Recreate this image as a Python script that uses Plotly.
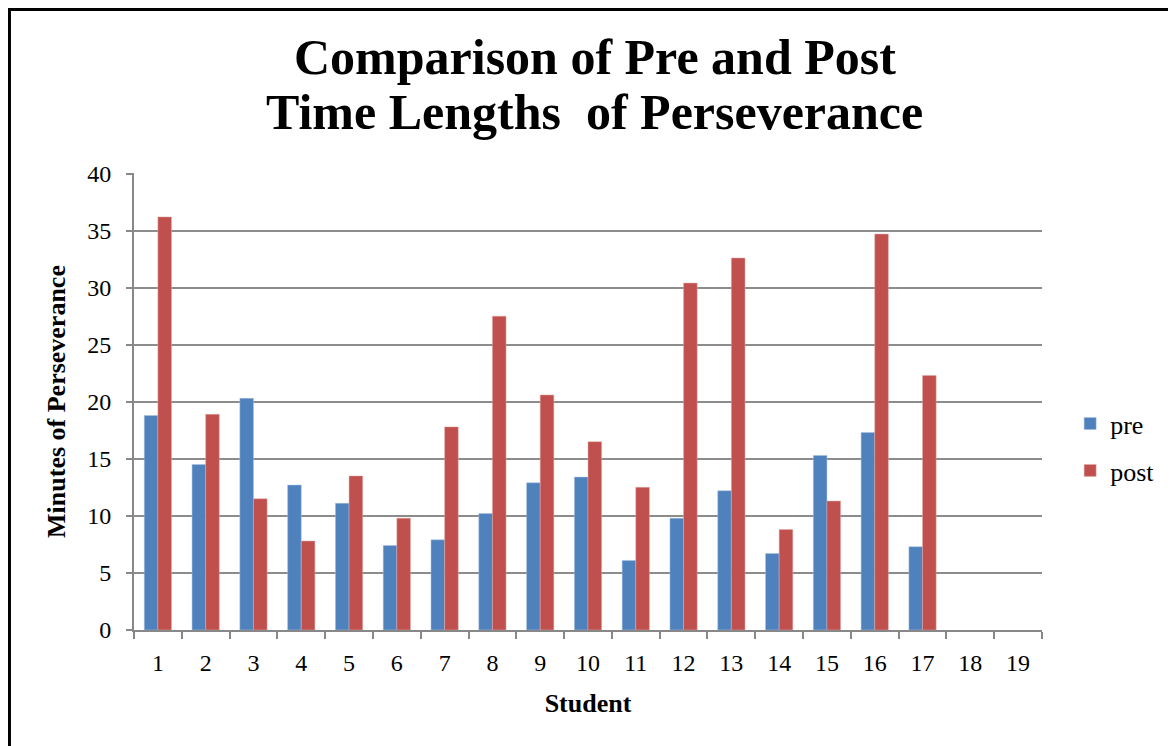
import plotly.graph_objects as go

students = [str(i) for i in range(1, 20)]
pre = [18.8, 14.5, 20.3, 12.7, 11.1, 7.4, 7.9, 10.2, 12.9, 13.4, 6.1, 9.8, 12.2, 6.7, 15.3, 17.3, 7.3, None, None]
post = [36.2, 18.9, 11.5, 7.8, 13.5, 9.8, 17.8, 27.5, 20.6, 16.5, 12.5, 30.4, 32.6, 8.8, 11.3, 34.7, 22.3, None, None]
title_lines = ["Comparison of Pre and Post", "Time Lengths  of Perseverance"]

serif = "Liberation Serif, DejaVu Serif, serif"

fig = go.Figure()
fig.add_trace(go.Bar(x=students, y=pre, name="pre", marker_color="#4F81BD",
                     marker_line=dict(color="#A9C0E0", width=0.5), legendgroup="a"))
fig.add_trace(go.Bar(x=students, y=post, name="post", marker_color="#C0504D",
                     marker_line=dict(color="#E0A9A8", width=0.5), legendgroup="b"))

fig.update_layout(
    width=1168, height=738,
    paper_bgcolor="white", plot_bgcolor="white",
    margin=dict(l=126, r=134, t=165, b=116, autoexpand=False),
    barmode="group", bargap=0.43, bargroupgap=0,
    font=dict(family=serif, color="black"),
    legend=dict(x=1.031, xanchor="left", y=0.40, yanchor="middle",
                font=dict(size=26, family=serif), tracegroupgap=10,
                traceorder="grouped", itemwidth=30),
    xaxis=dict(type="category", showgrid=False, showline=True, linecolor="#888888", linewidth=2,
               ticks="outside", tickson="boundaries", ticklen=7, tickcolor="#888888", tickwidth=2,
               tickfont=dict(size=24, family=serif), ticklabelstandoff=10,
               title=dict(text="<b>Student</b>", font=dict(size=26, family=serif), standoff=19)),
    yaxis=dict(range=[0, 40.05], dtick=5, showgrid=True, gridcolor="#8C8C8C", gridwidth=2,
               showline=True, linecolor="#888888", linewidth=2, zeroline=False,
               ticks="outside", ticklen=6, tickcolor="#888888", tickwidth=2,
               tickfont=dict(size=24, family=serif), ticklabelstandoff=10,
               title=dict(text="<b>Minutes of Perseverance</b>", font=dict(size=26, family=serif), standoff=14)),
    shapes=[dict(type="rect", xref="paper", yref="paper", x0=-0.1377, x1=1.25, y0=-0.4, y1=1.3589,
                 line=dict(color="black", width=4))],
    annotations=[
        dict(text="<b>%s</b>" % title_lines[0], xref="paper", yref="paper", x=0.5077, y=1.2538,
             xanchor="center", yanchor="middle", showarrow=False,
             font=dict(family=serif, size=50, color="black")),
        dict(text="<b>%s</b>" % title_lines[1], xref="paper", yref="paper", x=0.5077, y=1.1335,
             xanchor="center", yanchor="middle", showarrow=False,
             font=dict(family=serif, size=50, color="black")),
    ],
)

fig.write_html("out.html")
